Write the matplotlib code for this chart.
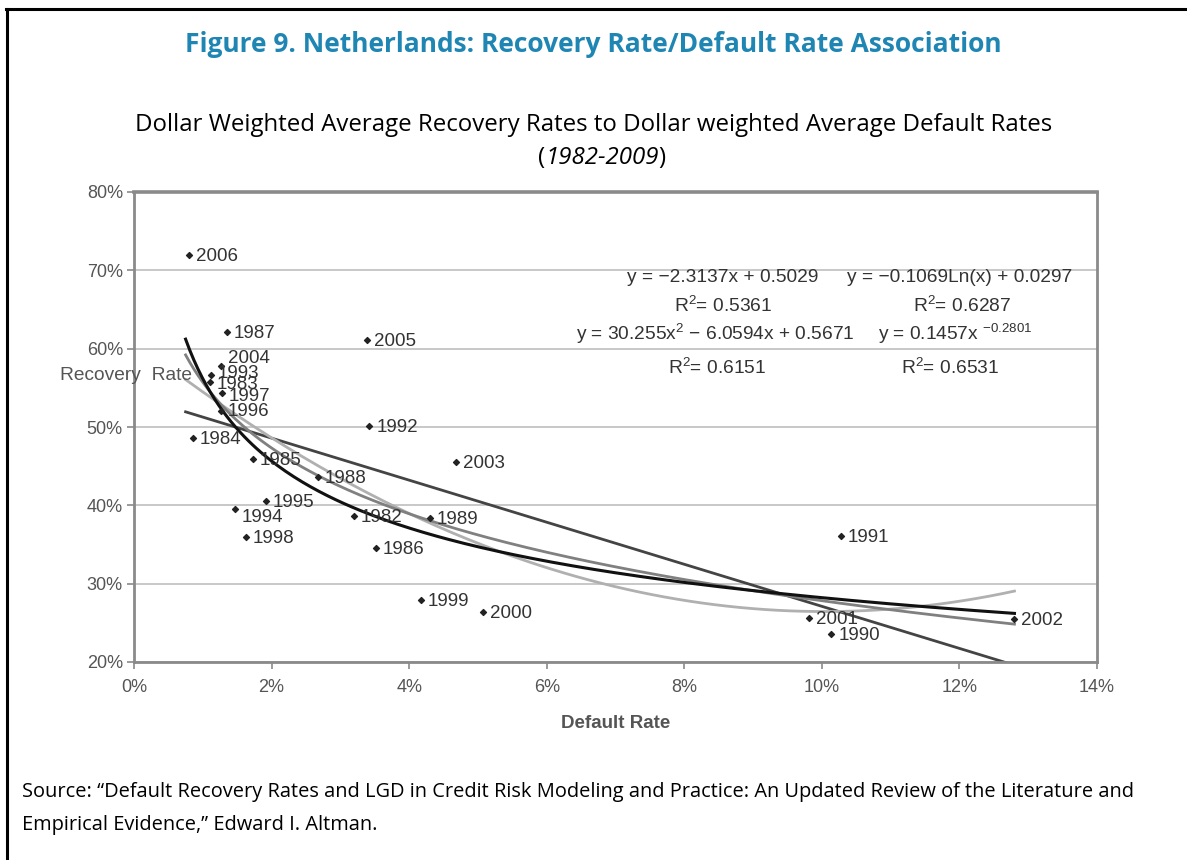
import numpy as np
import matplotlib
matplotlib.use("Agg")
import matplotlib.pyplot as plt
from matplotlib.ticker import PercentFormatter
from matplotlib.lines import Line2D

plt.rcParams["mathtext.fontset"] = "custom"
plt.rcParams["mathtext.rm"] = "Liberation Sans"

years = [2006, 1987, 2005, 2004, 1993, 1983, 1997, 1996, 1984, 1992, 1985, 2003,
         1988, 1995, 1994, 1982, 1989, 1998, 1986, 1999, 2000, 1991, 2001, 1990, 2002]
default_rate = [0.80, 1.35, 3.39, 1.26, 1.12, 1.10, 1.28, 1.26, 0.86, 3.42, 1.73, 4.68,
                2.67, 1.92, 1.47, 3.20, 4.30, 1.63, 3.52, 4.17, 5.07, 10.28, 9.81, 10.14, 12.80]
recovery_rate = [72.0, 62.1, 61.1, 57.8, 56.7, 55.8, 54.4, 52.1, 48.6, 50.1, 45.9, 45.5,
                 43.6, 40.6, 39.5, 38.6, 38.4, 36.0, 34.6, 27.9, 26.4, 36.1, 25.6, 23.6, 25.5]

equations = ["y = \u22122.3137x + 0.5029", "R$^2$= 0.5361",
             "y = \u22120.1069Ln(x) + 0.0297", "R$^2$= 0.6287",
             "y = 30.255x$^2$ \u2212 6.0594x + 0.5671", "y = 0.1457x $^{\u22120.2801}$",
             "R$^2$= 0.6151", "R$^2$= 0.6531"]

x = np.array(default_rate) / 100
y = np.array(recovery_rate) / 100

fig = plt.figure(figsize=(11.87, 8.6), dpi=100)
ax = fig.add_axes([134 / 1187, 1 - 662 / 860, 963 / 1187, 470 / 860])

# trend lines fitted to the points
xs = np.linspace(x.min() - 0.0005, x.max(), 200)
lin = np.polyfit(x, y, 1)
quad = np.polyfit(x, y, 2)
logc = np.polyfit(np.log(x), y, 1)
powc = np.polyfit(np.log(x), np.log(y), 1)
ax.plot(xs, np.polyval(lin, xs), color="#444444", lw=2.0, zorder=2)
ax.plot(xs, np.polyval(quad, xs), color="#b0b0b0", lw=2.0, zorder=2)
ax.plot(xs, np.polyval(logc, np.log(xs)), color="#808080", lw=2.0, zorder=2)
ax.plot(xs, np.exp(np.polyval(powc, np.log(xs))), color="#111111", lw=2.2, zorder=3)

ax.scatter(x, y, marker="D", s=9, color="#222222", zorder=4)

label_dy = {2004: 5, 1994: -6, 1983: -2, 1997: -3, 1993: 1}
for yr, xi, yi in zip(years, x, y):
    ax.annotate(str(yr), (xi, yi), xytext=(5, label_dy.get(yr, -1)),
                textcoords="offset points", va="center", ha="left",
                fontsize=13.5, color="#333333", family="Liberation Sans", zorder=5)

ax.set_xlim(0, 0.14)
ax.set_ylim(0.20, 0.80)
ax.set_xticks(np.arange(0, 0.141, 0.02))
ax.set_yticks(np.arange(0.20, 0.801, 0.10))
ax.xaxis.set_major_formatter(PercentFormatter(1.0, decimals=0))
ax.yaxis.set_major_formatter(PercentFormatter(1.0, decimals=0))
ax.grid(True, axis="y", color="#c4c4c4", linewidth=1.3)
ax.set_axisbelow(True)
for s in ax.spines.values():
    s.set_color("#8a8a8a")
    s.set_linewidth(2.0)
ax.spines["top"].set_linewidth(2.6)
ax.tick_params(colors="#8a8a8a", length=5, width=1.2, labelsize=13,
               labelcolor="#555555", pad=3)
ax.tick_params(axis="x", pad=7)
for lab in ax.get_xticklabels() + ax.get_yticklabels():
    lab.set_family("Liberation Sans")

ax.set_xlabel("Default Rate", fontsize=13.5, color="#555555", fontweight="bold",
              family="Liberation Sans", labelpad=14)
ax.text(-0.077, 0.61, "Recovery  Rate", transform=ax.transAxes, fontsize=13.8,
        color="#555555", va="center", ha="left", family="Liberation Sans")

eq_pos = [(723, 278), (723, 306), (960, 278), (962, 306),
          (715, 334), (955, 334), (717, 368), (950, 368)]
for txt, (px, py) in zip(equations, eq_pos):
    ax.text((px - 134) / 963, (662 - py) / 470, txt, transform=ax.transAxes,
            fontsize=13.8, color="#333333", ha="center", va="center",
            family="Liberation Sans", zorder=6)

# page frame and texts
fig.add_artist(Line2D([6 / 1187, 1], [1 - 8.5 / 860] * 2, color="black", lw=2.2))
fig.add_artist(Line2D([7 / 1187] * 2, [0, 1 - 8.5 / 860], color="black", lw=2.2))
fig.text(0.5, 1 - 44 / 860, "Figure 9. Netherlands: Recovery Rate/Default Rate Association",
         ha="center", va="center", fontsize=19, fontweight="bold", color="#1f86b4",
         family="Open Sans")
fig.text(0.5, 1 - 125 / 860,
         "Dollar Weighted Average Recovery Rates to Dollar weighted Average Default Rates",
         ha="center", va="center", fontsize=17.3, color="black", family="Open Sans")

# "(1982-2009)" with italic years, parentheses placed against the measured text
yy = 1 - 158 / 860
mid = fig.text(602 / 1187, yy, "1982-2009", ha="center", va="center", fontsize=17.3,
               family="Open Sans", style="italic")
renderer = fig.canvas.get_renderer()
bb = mid.get_window_extent(renderer).transformed(fig.transFigure.inverted())
fig.text(bb.x0, yy, "(", ha="right", va="center", fontsize=17.3, family="Open Sans")
fig.text(bb.x1, yy, ")", ha="left", va="center", fontsize=17.3, family="Open Sans")

fig.text(22 / 1187, 1 - 792 / 860,
         "Source: \u201cDefault Recovery Rates and LGD in Credit Risk Modeling and Practice: "
         "An Updated Review of the Literature and", ha="left", va="center",
         fontsize=14.4, family="Open Sans")
fig.text(22 / 1187, 1 - 825 / 860, "Empirical Evidence,\u201d Edward I. Altman.",
         ha="left", va="center", fontsize=14.4, family="Open Sans")

fig.savefig("out.png", dpi=100)
